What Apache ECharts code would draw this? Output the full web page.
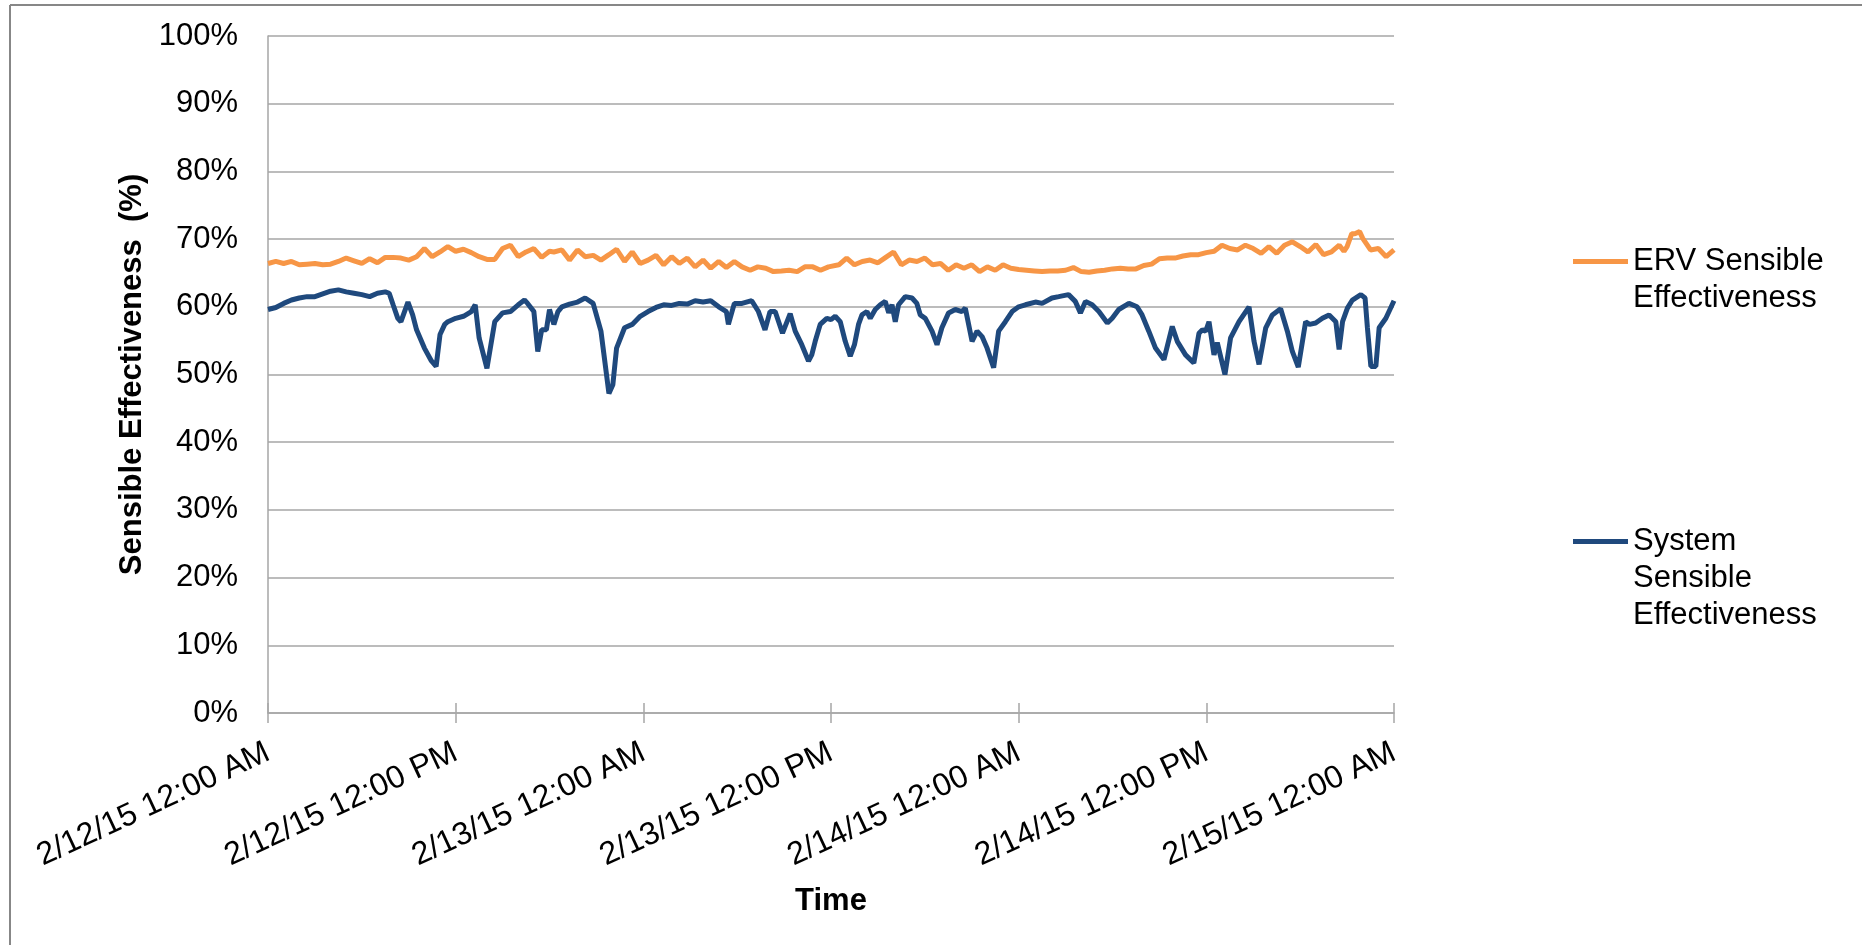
<!DOCTYPE html>
<html>
<head>
<meta charset="utf-8">
<script src="https://cdn.jsdelivr.net/npm/echarts@6/dist/echarts.min.js"></script>
<style>
  html, body { margin: 0; padding: 0; background: #fff; }
  #chart { width: 1862px; height: 945px; }
</style>
</head>
<body>
<div id="chart"></div>
<script>
// Hours since 2/12/15 12:00 AM
const tickLabels = ['2/12/15 12:00 AM', '2/12/15 12:00 PM', '2/13/15 12:00 AM', '2/13/15 12:00 PM', '2/14/15 12:00 AM', '2/14/15 12:00 PM', '2/15/15 12:00 AM'];
const seriesNames = ['ERV Sensible\nEffectiveness', 'System\nSensible\nEffectiveness'];

const ervHours = [0,0.5,1,1.5,2,2.5,3,3.5,4,4.5,5,5.5,6,6.5,7,7.5,8,8.5,9,9.5,10,10.5,11,11.5,12,12.5,13,13.5,14,14.5,15,15.5,16,16.5,17,17.5,18,
  18.28,18.79,19.28,19.79,20.28,20.8,21.29,21.8,22.29,22.8,23.29,23.8,24.3,24.81,25.3,25.81,26.3,26.81,27.31,27.82,28.31,28.82,29.31,29.82,30.31,30.83,31.32,31.83,32.32,32.83,33.32,33.84,34.33,34.84,35.33,35.84,
  36.5,37,37.5,38,38.5,39,39.5,40,40.5,41,41.5,42,42.5,43,43.5,44,44.5,45,45.5,46,46.5,47,47.5,48,48.5,49,49.5,50,50.5,51,51.5,52,52.5,53,53.5,54,
  54.5,55,55.5,56,56.5,57,57.5,58,58.5,59,59.5,60,60.5,61,61.5,62,62.5,63,63.5,64,64.5,65,65.5,66,66.5,67,67.5,68,68.5,68.8,69,69.3,69.5,69.8,70,70.5,71,71.5,72];
const ervValues = [66.4,66.7,66.4,66.7,66.2,66.3,66.4,66.2,66.3,66.7,67.2,66.8,66.4,67.1,66.5,67.3,67.3,67.2,66.9,67.4,68.6,67.4,68.1,68.9,68.2,68.5,68.0,67.4,67.0,67.0,68.6,69.1,67.4,68.1,68.6,67.3,68.2,
  68.1,68.4,66.9,68.4,67.4,67.6,66.9,67.7,68.5,66.7,68.1,66.4,66.9,67.6,66.2,67.4,66.4,67.2,65.9,66.9,65.7,66.7,65.8,66.7,65.9,65.4,65.9,65.7,65.2,65.3,65.4,65.2,65.9,65.9,65.4,65.9,
  66.2,67.2,66.2,66.7,66.9,66.5,67.3,68.1,66.2,66.9,66.7,67.2,66.2,66.4,65.4,66.2,65.7,66.2,65.2,65.9,65.4,66.2,65.7,65.5,65.4,65.3,65.2,65.3,65.3,65.4,65.8,65.2,65.1,65.3,65.4,65.6,
  65.7,65.6,65.6,66.1,66.3,67.1,67.2,67.2,67.5,67.7,67.7,68.0,68.2,69.1,68.6,68.4,69.1,68.6,67.9,68.9,67.9,69.1,69.6,68.9,68.1,69.2,67.7,68.1,69.1,68.2,68.9,70.8,70.8,71.1,70.1,68.4,68.6,67.4,68.4];

const sysHours = [0,0.5,1,1.5,2,2.5,3,3.5,4,4.5,5,5.5,6,6.5,7,7.5,7.75,8,8.3,8.5,8.95,9.25,9.5,10,10.45,10.75,11,11.3,11.5,12,12.5,13,13.25,13.5,14,14.5,15,15.5,16,16.4,16.6,17,17.25,17.5,17.8,18,18.1,
  18.28,18.54,18.79,19.28,19.79,20.28,20.79,21.29,21.8,22.05,22.29,22.8,23.29,23.8,24.3,24.81,25.3,25.81,26.3,26.81,27.31,27.82,28.31,28.82,29.31,29.44,29.82,30.31,30.93,31.36,31.78,32.1,32.43,32.9,33.39,33.71,34.13,34.56,34.77,34.99,35.31,35.73,
  36,36.27,36.59,36.91,37.23,37.5,37.76,37.98,38.3,38.51,38.83,39.15,39.47,39.69,39.9,40.11,40.32,40.75,41.18,41.49,41.71,42.03,42.46,42.78,43.09,43.52,43.95,44.37,44.59,45.02,45.34,45.66,45.98,46.4,46.72,47.15,47.58,48,48.43,49.07,49.5,50.13,50.56,51.19,51.62,51.95,52.27,52.7,53.13,53.67,53.98,
  54.4,55.05,55.57,55.89,56.32,56.75,57.29,57.82,58.14,58.67,59.2,59.53,59.75,59.96,60.17,60.49,60.7,61.19,61.55,62.09,62.73,63.05,63.37,63.8,64.22,64.75,65.18,65.5,65.88,66.35,66.6,66.99,67.42,67.85,68.28,68.49,68.71,69.02,69.34,69.88,70.15,70.3,70.52,70.84,71.05,71.48,72];
const sysValues = [59.6,59.9,60.5,61.0,61.3,61.5,61.5,61.9,62.3,62.5,62.2,62.0,61.8,61.5,62.0,62.2,62.0,60.3,58.3,57.8,60.7,58.8,56.6,53.9,52.0,51.2,55.9,57.4,57.8,58.3,58.6,59.3,60.3,55.4,50.9,57.8,59.1,59.3,60.3,61.0,60.5,59.3,53.4,56.6,56.6,59.6,59.8,
  57.4,59.3,60.0,60.4,60.7,61.3,60.5,56.4,47.2,48.5,53.9,56.9,57.4,58.6,59.3,59.9,60.3,60.2,60.5,60.4,60.9,60.7,60.9,60.0,59.3,57.4,60.5,60.5,60.9,59.3,56.6,59.3,59.3,56.1,59.0,56.4,54.4,52.0,52.9,54.9,57.4,58.3,
  58.1,58.6,57.8,54.9,52.7,54.4,57.4,58.8,59.3,58.3,59.6,60.3,60.8,59.1,60.3,57.8,60.3,61.5,61.3,60.5,58.8,58.3,56.4,54.4,56.9,59.1,59.6,59.3,59.8,54.9,56.4,55.6,53.9,51.0,56.4,57.8,59.3,60.0,60.3,60.7,60.5,61.3,61.5,61.8,60.8,59.1,60.8,60.3,59.3,57.6,58.3,
  59.6,60.5,60.0,58.8,56.4,53.9,52.2,57.1,54.9,52.9,51.7,56.1,56.6,56.4,57.8,52.9,54.7,50.0,55.4,57.8,60.0,54.9,51.5,56.9,58.8,59.7,56.4,53.4,51.1,57.8,57.4,57.6,58.3,58.8,57.8,53.7,57.8,59.8,61.0,61.8,61.3,56.9,51.2,51.2,56.9,58.3,60.9];

const ervData = ervHours.map((h, i) => [h, ervValues[i]]);
const sysData = sysHours.map((h, i) => [h, sysValues[i]]);

const FONT = '"Liberation Sans", Arial, sans-serif';
const GRID_COLOR = '#A6A6A6';
const legendText = { fontFamily: FONT, fontSize: 31, lineHeight: 37, color: '#000' };

const chart = echarts.init(document.getElementById('chart'), null, { renderer: 'canvas' });
chart.setOption({
  animation: false,
  backgroundColor: '#ffffff',
  textStyle: { fontFamily: FONT, color: '#000' },
  graphic: [
    { type: 'line', shape: { x1: 10, y1: 5, x2: 1862, y2: 5 }, style: { stroke: '#878787', lineWidth: 2 }, silent: true },
    { type: 'line', shape: { x1: 10, y1: 5, x2: 10, y2: 945 }, style: { stroke: '#878787', lineWidth: 2 }, silent: true }
  ],
  grid: { left: 268, right: 468, top: 36, bottom: 232, containLabel: false },
  legend: [
    {
      data: [seriesNames[0]],
      orient: 'vertical', left: 1568, top: 201,
      icon: 'rect', itemWidth: 55, itemHeight: 5, itemGap: 0,
      formatter: name => '\n' + name,
      textStyle: legendText
    },
    {
      data: [seriesNames[1]],
      orient: 'vertical', left: 1568, top: 444,
      icon: 'rect', itemWidth: 55, itemHeight: 5, itemGap: 0,
      formatter: name => '\n\n' + name,
      textStyle: legendText
    }
  ],
  xAxis: [
    {
      type: 'value', min: 0, max: 72, interval: 12,
      name: 'Time', nameLocation: 'middle', nameGap: 173,
      nameTextStyle: { fontFamily: FONT, fontSize: 31, fontWeight: 'bold', color: '#000' },
      axisLine: { show: true, lineStyle: { color: GRID_COLOR, width: 1.5 } },
      axisTick: { show: true, inside: false, length: 10, lineStyle: { color: GRID_COLOR, width: 1.5 } },
      splitLine: { show: false },
      axisLabel: {
        rotate: 25, margin: 38, fontFamily: FONT, fontSize: 32, color: '#000',
        formatter: v => tickLabels[Math.round(v / 12)]
      }
    },
    {
      type: 'value', min: 0, max: 72, interval: 12, position: 'bottom',
      axisLine: { show: false },
      axisTick: { show: true, inside: true, length: 10, lineStyle: { color: GRID_COLOR, width: 1.5 } },
      splitLine: { show: false },
      axisLabel: { show: false }
    }
  ],
  yAxis: {
    type: 'value', min: 0, max: 100, interval: 10,
    name: 'Sensible Effectiveness  (%)', nameLocation: 'middle', nameGap: 118,
    nameTextStyle: { fontFamily: FONT, fontSize: 31, fontWeight: 'bold', color: '#000' },
    axisLine: { show: true, lineStyle: { color: GRID_COLOR, width: 1.5 } },
    axisTick: { show: false },
    splitLine: { show: true, lineStyle: { color: GRID_COLOR, width: 1.5 } },
    axisLabel: { margin: 30, fontFamily: FONT, fontSize: 31, color: '#000', formatter: '{value}%' }
  },
  series: [
    {
      name: seriesNames[0], type: 'line', xAxisIndex: 0, data: ervData,
      showSymbol: false, symbol: 'none',
      lineStyle: { color: '#F79646', width: 5 }, itemStyle: { color: '#F79646' }
    },
    {
      name: seriesNames[1], type: 'line', xAxisIndex: 0, data: sysData,
      showSymbol: false, symbol: 'none',
      lineStyle: { color: '#1F497D', width: 5 }, itemStyle: { color: '#1F497D' }
    }
  ]
});
</script>
</body>
</html>
